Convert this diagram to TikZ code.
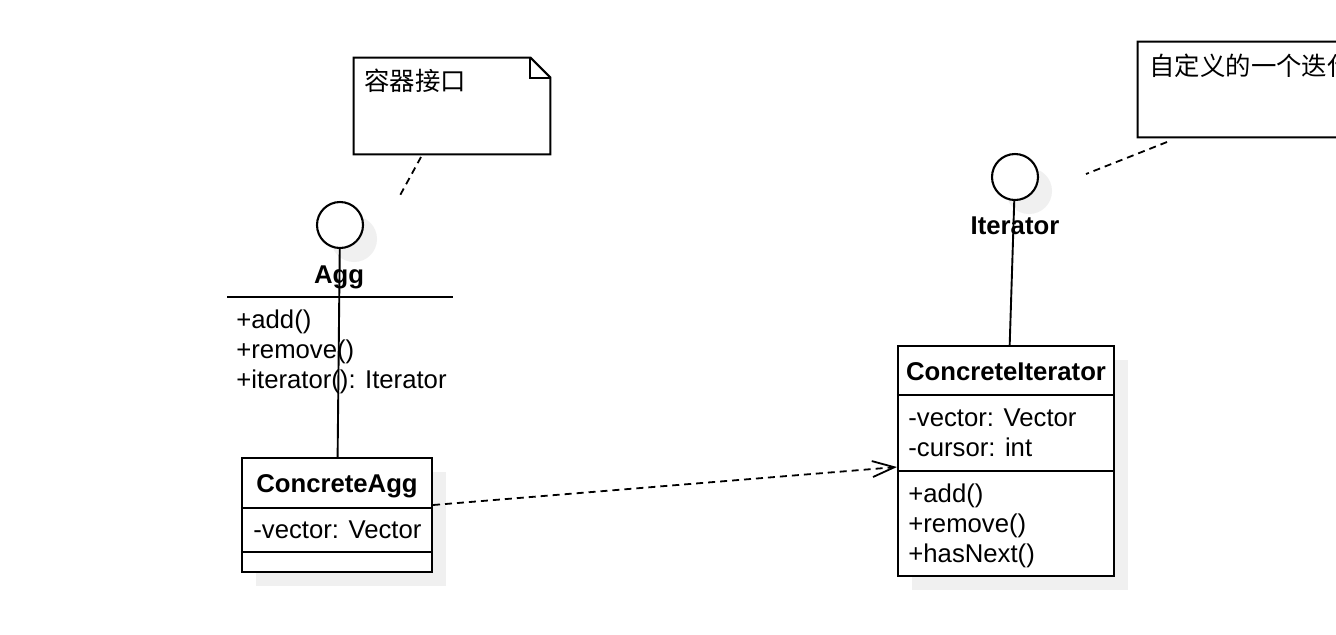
\documentclass[tikz,border=0pt]{standalone}
\usepackage{fontspec}
\setmainfont{Liberation Sans}
\newfontfamily\cjk{Noto Sans CJK SC}
\usetikzlibrary{arrows.meta, positioning, calc, shadows}

\begin{document}
\begin{tikzpicture}[x=0.5pt, y=-0.5pt,
  shd/.style={drop shadow={shadow xshift=7pt, shadow yshift=-7pt, fill=black!6, opacity=1}},
  cls/.style={draw, line width=1.05pt, fill=white, inner sep=0pt, shd},
  ifc/.style={circle, draw, line width=1.05pt, fill=white, inner sep=0pt, minimum size=23pt, shd},
  notebox/.style={inner sep=0pt},
  ttl/.style={inner sep=0pt, anchor=base, font=\fontsize{12.85}{15}\selectfont\bfseries},
  mbr/.style={inner sep=0pt, anchor=base west, font=\fontsize{12.85}{15}\selectfont},
  cjktxt/.style={inner sep=0pt, anchor=base west, font=\cjk\fontsize{12.7}{15}\selectfont},
  assoc/.style={line width=0.95pt},
  notelink/.style={line width=0.9pt, dash pattern=on 3.5pt off 2.5pt},
  dep/.style={line width=0.9pt, dash pattern=on 3.5pt off 2.5pt, -{Straight Barb[length=11pt, width=8pt, line width=0.9pt]}}
]
  \clip (0,0) rectangle (1336,634);
  \fill[white] (0,0) rectangle (1336,634);

  % notes
  \node[notebox, minimum width=98pt, minimum height=48pt] (n1) at (452,106) {};
  \draw[line width=1.05pt] (n1.north west) -- ($(n1.north east)+(-20,0)$) -- ($(n1.north east)+(0,20)$)
    -- (n1.south east) -- (n1.south west) -- cycle;
  \draw[line width=1.05pt] ($(n1.north east)+(-20,0)$) |- ($(n1.north east)+(0,20)$);
  \node[cjktxt] (n1t) at (364,90) {容器接口};

  \node[notebox, minimum width=131pt, minimum height=47.5pt] (n2) at (1269,89.5) {};
  \draw[line width=1.05pt] (n2.north west) -- ($(n2.north east)+(-20,0)$) -- ($(n2.north east)+(0,20)$)
    -- (n2.south east) -- (n2.south west) -- cycle;
  \node[cjktxt] (n2t) at (1149,75) {自定义的一个迭代器接口};

  % interfaces
  \node[ifc] (agg) at (340,225) {};
  \node[ttl] (aggt) at (339,283) {Agg};
  \draw[line width=1.05pt] (227,297) -- (453,297);
  \node[mbr] (agg1) at (236,328) {+add()};
  \node[mbr] (agg2) at (236,358) {+remove()};
  \node[mbr] (agg3) at (236,388) {+iterator(): Iterator};

  \node[ifc] (iter) at (1015,177) {};
  \node[ttl] (itert) at (1015,234) {Iterator};

  % classes
  \node[cls, minimum width=95pt, minimum height=57pt] (cagg) at (337,515) {};
  \draw[line width=1.05pt] ($(cagg.north west)+(0,51)$) -- ($(cagg.north east)+(0,51)$);
  \draw[line width=1.05pt] ($(cagg.north west)+(0,95)$) -- ($(cagg.north east)+(0,95)$);
  \node[ttl] (cagg-t) at (337,492) {ConcreteAgg};
  \node[mbr] (cagg-a1) at (253,538) {-vector: Vector};

  \node[cls, minimum width=108pt, minimum height=115pt] (citer) at (1006,461) {};
  \draw[line width=1.05pt] ($(citer.north west)+(0,50)$) -- ($(citer.north east)+(0,50)$);
  \draw[line width=1.05pt] ($(citer.north west)+(0,126)$) -- ($(citer.north east)+(0,126)$);
  \node[ttl] (citer-t) at (1006,380) {ConcreteIterator};
  \node[mbr] (citer-a1) at (908,426) {-vector: Vector};
  \node[mbr] (citer-a2) at (908,456) {-cursor: int};
  \node[mbr] (citer-o1) at (908,502) {+add()};
  \node[mbr] (citer-o2) at (908,532) {+remove()};
  \node[mbr] (citer-o3) at (908,562) {+hasNext()};

  % links
  \draw[assoc] (agg) -- (cagg);
  \draw[assoc] (iter) -- (citer);
  \draw[dep] ([yshift=5pt]cagg.east) -- ([yshift=-3pt]citer.west);
  \coordinate (l1a) at (421,157);
  \coordinate (l1b) at (398,199);
  \draw[notelink] (l1a) -- (l1b);
  \coordinate (l2a) at (1167,142);
  \coordinate (l2b) at (1086,174);
  \draw[notelink] (l2a) -- (l2b);
\end{tikzpicture}
\end{document}
